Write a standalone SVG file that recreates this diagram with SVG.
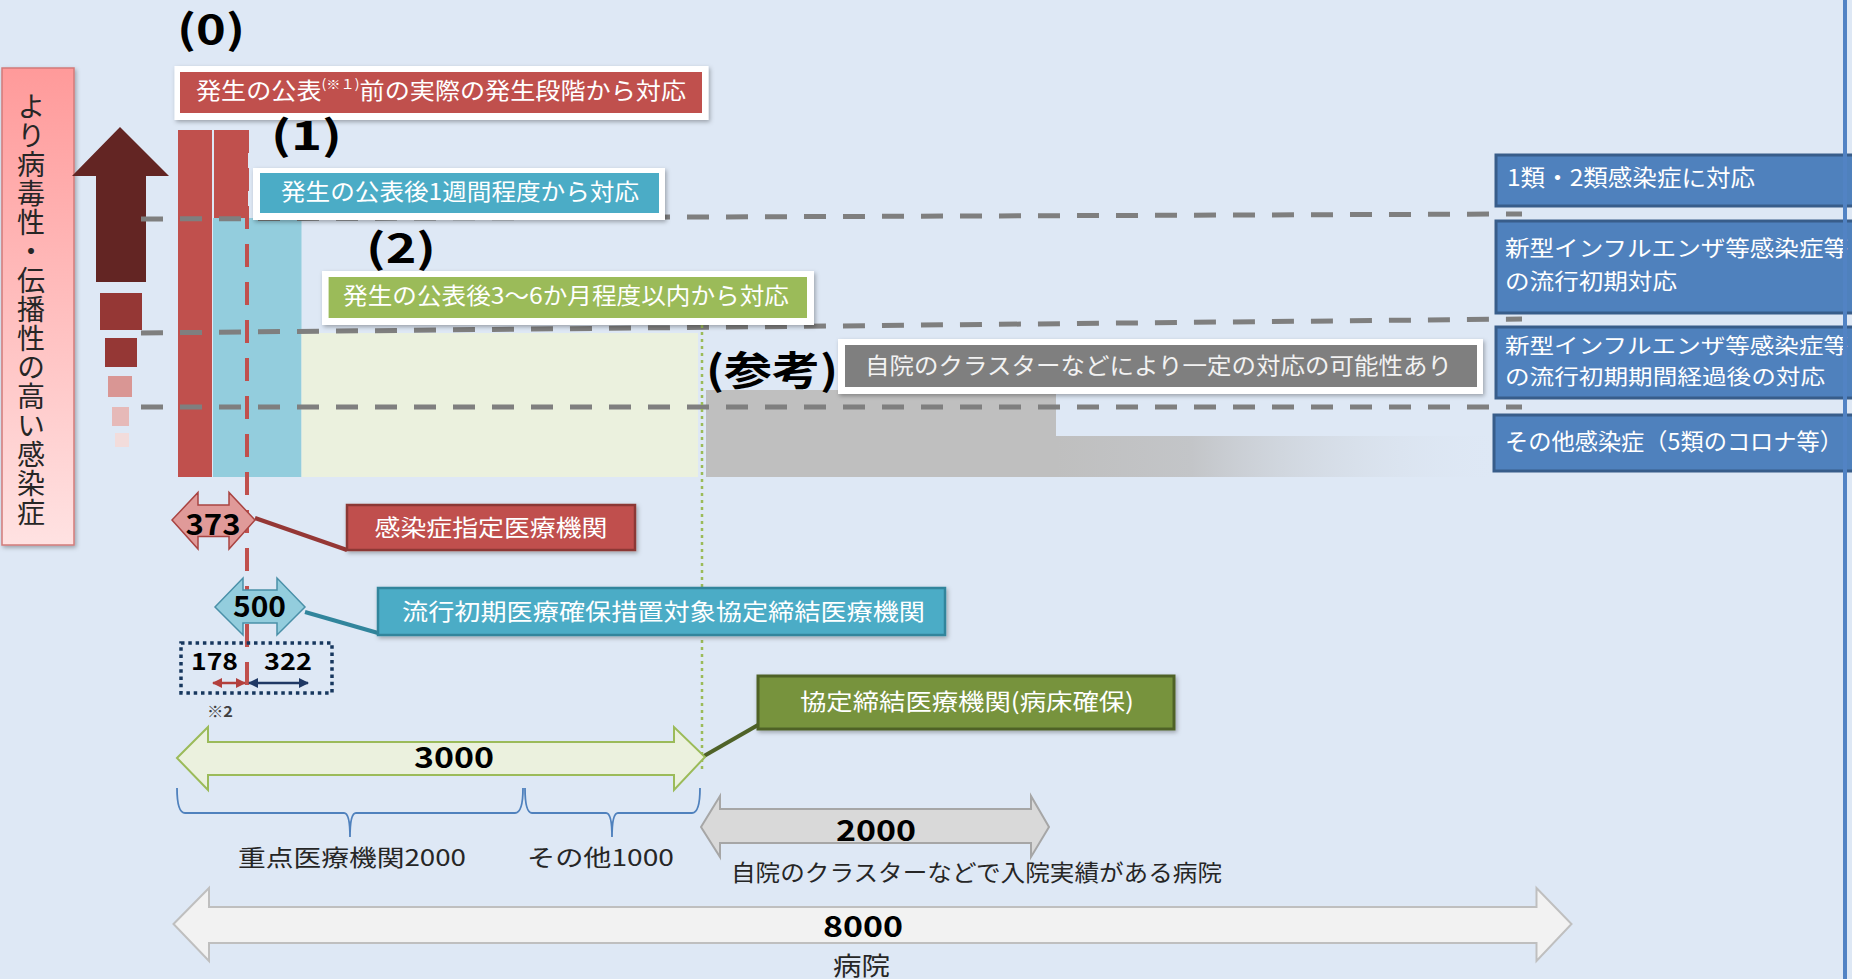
<svg xmlns="http://www.w3.org/2000/svg" width="1852" height="979" viewBox="0 0 1852 979">
<style>
  .jp { font-family: "Noto Sans CJK JP", "Noto Sans", sans-serif; }
  .num { font-family: "Noto Sans CJK JP", "Liberation Sans", sans-serif; font-weight: bold; fill: #000; }
  .lbl { font-family: "Noto Sans CJK JP", sans-serif; fill: #ffffff; font-size: 23px; }
  .dk { font-family: "Noto Sans CJK JP", sans-serif; fill: #262626; font-size: 23px; }
  .gdash { stroke: #7f7f7f; stroke-width: 5; stroke-dasharray: 22 17; fill: none; }
  .rbox { fill: #4f81bd; stroke: #385d8a; stroke-width: 3; }
  .frame { fill: #ffffff; filter: url(#sh); }
  .brace { fill: none; stroke: #4f81bd; stroke-width: 1.8; }
  .lead { stroke-width: 4; fill: none; }
</style>
<defs>
  <filter id="sh" x="-10%" y="-20%" width="130%" height="160%">
    <feDropShadow dx="1.5" dy="2" stdDeviation="2" flood-color="#000" flood-opacity="0.3"/>
  </filter>
  <linearGradient id="pinkg" x1="0" y1="0" x2="0" y2="1">
    <stop offset="0" stop-color="#ff9a9a"/>
    <stop offset="1" stop-color="#ffe2e2"/>
  </linearGradient>
  <linearGradient id="greyfade" x1="0" y1="0" x2="1" y2="0">
    <stop offset="0" stop-color="#bfbfbf"/>
    <stop offset="0.3" stop-color="#c3c5c8"/>
    <stop offset="1" stop-color="#dee8f5" stop-opacity="0"/>
  </linearGradient>
  <marker id="mRed" viewBox="0 0 10 10" refX="9" refY="5" markerWidth="4" markerHeight="4" orient="auto-start-reverse">
    <path d="M0,0 L10,5 L0,10 Z" fill="#b3403d"/>
  </marker>
  <marker id="mNavy" viewBox="0 0 10 10" refX="9" refY="5" markerWidth="4" markerHeight="4" orient="auto-start-reverse">
    <path d="M0,0 L10,5 L0,10 Z" fill="#1f3864"/>
  </marker>
</defs>

<rect x="0" y="0" width="1852" height="979" fill="#dee8f5"/>

<!-- left legend -->
<g id="virulence-label">
  <rect x="2" y="68" width="72" height="477" fill="url(#pinkg)" stroke="#d27b79" stroke-width="1.5" filter="url(#sh)"/>
  <text x="31" y="92" class="jp" font-size="28" fill="#262626" style="writing-mode: vertical-rl; letter-spacing: 1px;">より病毒性・伝播性の高い感染症</text>
</g>
<g id="virulence-arrow">
  <polygon points="120,127 169,176 146,176 146,282 96,282 96,176 72,176" fill="#632523"/>
  <rect x="100" y="293" width="42" height="37" fill="#953735"/>
  <rect x="105" y="338" width="32" height="29" fill="#953735"/>
  <rect x="108" y="376" width="24" height="21" fill="#d99694"/>
  <rect x="112" y="407" width="17" height="19" fill="#e6b9b8"/>
  <rect x="115" y="433" width="14" height="14" fill="#f2dcdb"/>
</g>

<!-- bars and areas -->
<g id="bars">
  <rect x="178" y="130" width="34" height="347" fill="#c0504d"/>
  <rect x="214" y="130" width="34" height="88" fill="#c0504d"/>
  <rect x="213" y="218" width="88.5" height="259" fill="#93cddd"/>
  <rect x="301.5" y="333" width="396.5" height="144" fill="#ebf1de"/>
  <rect x="706" y="390" width="350" height="87" fill="#bfbfbf"/>
  <rect x="1056" y="436" width="450" height="41" fill="url(#greyfade)"/>
</g>

<!-- level lines -->
<g id="level-lines">
  <line x1="141" y1="219" x2="1522" y2="214" class="gdash"/>
  <line x1="141" y1="333" x2="1522" y2="319" class="gdash"/>
  <line x1="141" y1="407" x2="1522" y2="407" class="gdash"/>
  <line x1="247" y1="130" x2="247" y2="697" stroke="#c0504d" stroke-width="4" stroke-dasharray="23 15"/>
  <line x1="702" y1="325" x2="702" y2="773" stroke="#9bbb59" stroke-width="2.5" stroke-dasharray="3 4"/>
</g>

<!-- stage labels -->
<g id="stage0">
  <text x="211" y="44" class="num" font-size="40" text-anchor="middle" textLength="68" lengthAdjust="spacingAndGlyphs">(0)</text>
  <rect x="174.5" y="66" width="534" height="54" class="frame"/>
  <rect x="180" y="72" width="522" height="41" fill="#c0504d"/>
  <text x="196" y="99" class="lbl" textLength="490" lengthAdjust="spacingAndGlyphs">発生の公表<tspan font-size="13" dy="-10">(※１)</tspan><tspan dy="10">前の実際の発生段階から対応</tspan></text>
</g>
<g id="stage1">
  <text x="306.5" y="150" class="num" font-size="40" text-anchor="middle" textLength="71" lengthAdjust="spacingAndGlyphs">(1)</text>
  <rect x="253" y="168" width="412" height="52" class="frame"/>
  <rect x="260" y="173" width="399" height="40" fill="#4bacc6"/>
  <text x="281" y="200" class="lbl" textLength="358" lengthAdjust="spacingAndGlyphs">発生の公表後1週間程度から対応</text>
</g>
<g id="stage2">
  <text x="401" y="263" class="num" font-size="40" text-anchor="middle" textLength="70" lengthAdjust="spacingAndGlyphs">(2)</text>
  <rect x="322" y="271" width="492" height="54" class="frame"/>
  <rect x="328.6" y="277" width="478.4" height="41" fill="#9bbb59"/>
  <text x="343" y="304" class="lbl" textLength="446" lengthAdjust="spacingAndGlyphs">発生の公表後3～6か月程度以内から対応</text>
</g>
<g id="stage-ref">
  <text x="772" y="385" class="num" font-size="40" text-anchor="middle" textLength="132" lengthAdjust="spacingAndGlyphs">(参考)</text>
  <rect x="838" y="339" width="645" height="55" class="frame"/>
  <rect x="845" y="345" width="632" height="42" fill="#7f7f7f"/>
  <text x="865" y="374" class="lbl" style="fill:#f2f2f2" textLength="587" lengthAdjust="spacingAndGlyphs">自院のクラスターなどにより一定の対応の可能性あり</text>
</g>

<!-- right category boxes -->
<g id="cat1">
  <rect x="1496" y="155" width="370" height="51" class="rbox"/>
  <text x="1507" y="186" class="lbl" textLength="248" lengthAdjust="spacingAndGlyphs">1類・2類感染症に対応</text>
</g>
<g id="cat2">
  <rect x="1496" y="221" width="370" height="92" class="rbox"/>
  <text x="1505" y="256" class="lbl" style="font-size:22px" textLength="343" lengthAdjust="spacingAndGlyphs">新型インフルエンザ等感染症等</text>
  <text x="1505" y="289" class="lbl" style="font-size:22px" textLength="172" lengthAdjust="spacingAndGlyphs">の流行初期対応</text>
</g>
<g id="cat3">
  <rect x="1496" y="327" width="370" height="71" class="rbox"/>
  <text x="1505" y="353" class="lbl" style="font-size:21px" textLength="343" lengthAdjust="spacingAndGlyphs">新型インフルエンザ等感染症等</text>
  <text x="1505" y="384" class="lbl" style="font-size:21px" textLength="320" lengthAdjust="spacingAndGlyphs">の流行初期期間経過後の対応</text>
</g>
<g id="cat4">
  <rect x="1494" y="415" width="372" height="56" class="rbox"/>
  <text x="1505" y="450" class="lbl" textLength="338" lengthAdjust="spacingAndGlyphs">その他感染症（5類のコロナ等）</text>
</g>
<line x1="1845" y1="0" x2="1845" y2="979" stroke="#5283c4" stroke-width="4"/>

<!-- connectors -->
<g id="connectors">
  <line x1="255" y1="518" x2="347" y2="550" stroke="#953735" class="lead"/>
  <line x1="305" y1="612" x2="378" y2="633" stroke="#31859c" class="lead"/>
  <line x1="704" y1="756" x2="758" y2="725" stroke="#4f6228" class="lead"/>
</g>

<!-- 373 -->
<g id="n373">
  <polygon points="172,520 198,492.5 198,505 229,505 229,492.5 255,520 229,549 229,536.5 198,536.5 198,549" fill="#e09a99" stroke="#a94442" stroke-width="1.5"/>
  <text x="213" y="535" class="num" font-size="29" text-anchor="middle" textLength="55" lengthAdjust="spacingAndGlyphs">373</text>
</g>
<g id="designated">
  <rect x="347" y="505" width="288" height="45" fill="#c0504d" stroke="#8c3836" stroke-width="2.5" filter="url(#sh)"/>
  <text x="491" y="536" class="lbl" text-anchor="middle" textLength="233" lengthAdjust="spacingAndGlyphs">感染症指定医療機関</text>
</g>

<!-- 500 -->
<g id="n500">
  <polygon points="215,607 243,578 243,590 277,590 277,578 305,607 277,635 277,623 243,623 243,635" fill="#93cddd" stroke="#4a90a8" stroke-width="1.5"/>
  <text x="259.5" y="617" class="num" font-size="29" text-anchor="middle" textLength="53" lengthAdjust="spacingAndGlyphs">500</text>
</g>
<g id="early">
  <rect x="378" y="588" width="567" height="47" fill="#4bacc6" stroke="#31859c" stroke-width="2.5" filter="url(#sh)"/>
  <text x="402" y="620" class="lbl" textLength="523" lengthAdjust="spacingAndGlyphs">流行初期医療確保措置対象協定締結医療機関</text>
</g>

<!-- 178 / 322 -->
<g id="split">
  <rect x="181" y="643" width="151" height="50" fill="none" stroke="#17375e" stroke-width="3.5" stroke-dasharray="3.5 3.8"/>
  <text x="214.5" y="670" class="num" font-size="23" text-anchor="middle" textLength="47" lengthAdjust="spacingAndGlyphs">178</text>
  <text x="288" y="670" class="num" font-size="23" text-anchor="middle" textLength="48" lengthAdjust="spacingAndGlyphs">322</text>
  <line x1="213" y1="683" x2="245" y2="683" stroke="#b3403d" stroke-width="2.5" marker-start="url(#mRed)" marker-end="url(#mRed)"/>
  <line x1="249" y1="683" x2="308" y2="683" stroke="#1f3864" stroke-width="2.5" marker-start="url(#mNavy)" marker-end="url(#mNavy)"/>
  <text x="220" y="717" class="num" font-size="15" style="fill:#404040" text-anchor="middle" textLength="26" lengthAdjust="spacingAndGlyphs">※2</text>
</g>

<!-- 3000 -->
<g id="n3000">
  <polygon points="177,758 208,727 208,742 674,742 674,727 705,757 674,790 674,775 208,775 208,790" fill="#ebf1de" stroke="#9bbb59" stroke-width="2"/>
  <text x="454" y="768" class="num" font-size="29" text-anchor="middle" textLength="80" lengthAdjust="spacingAndGlyphs">3000</text>
</g>
<g id="contract">
  <rect x="758" y="676" width="416" height="53" fill="#77933c" stroke="#4f6228" stroke-width="3" filter="url(#sh)"/>
  <text x="800" y="710" class="lbl" textLength="334" lengthAdjust="spacingAndGlyphs">協定締結医療機関(病床確保)</text>
</g>

<!-- braces -->
<g id="brace-key">
  <path d="M177,788 Q177,813 185,813 H344 Q350,813 350,837 Q350,813 356,813 H515 Q523,813 523,788" class="brace"/>
  <text x="238" y="866" class="dk" textLength="228" lengthAdjust="spacingAndGlyphs">重点医療機関2000</text>
</g>
<g id="brace-other">
  <path d="M525,788 Q525,813 532,813 H606 Q612,813 612,837 Q612,813 618,813 H692 Q700,813 700,788" class="brace"/>
  <text x="527" y="866" class="dk" textLength="147" lengthAdjust="spacingAndGlyphs">その他1000</text>
</g>

<!-- 2000 -->
<g id="n2000">
  <polygon points="701,827 720,796 720,809 1031,809 1031,796 1049,827 1031,857 1031,843 720,843 720,857" fill="#d9d9d9" stroke="#a6a6a6" stroke-width="2"/>
  <text x="876" y="841" class="num" font-size="29" text-anchor="middle" textLength="80" lengthAdjust="spacingAndGlyphs">2000</text>
  <text x="731" y="881" class="dk" textLength="491" lengthAdjust="spacingAndGlyphs">自院のクラスターなどで入院実績がある病院</text>
</g>

<!-- 8000 -->
<g id="n8000">
  <polygon points="173.5,924 209,888 209,907 1536.5,907 1536.5,888 1571.5,924 1536.5,961 1536.5,943 209,943 209,961" fill="#f2f2f2" stroke="#bfbfbf" stroke-width="2"/>
  <text x="863" y="937" class="num" font-size="29" text-anchor="middle" textLength="80" lengthAdjust="spacingAndGlyphs">8000</text>
  <text x="861.5" y="975" class="dk" style="font-size:25px" text-anchor="middle" textLength="57" lengthAdjust="spacingAndGlyphs">病院</text>
</g>
</svg>
